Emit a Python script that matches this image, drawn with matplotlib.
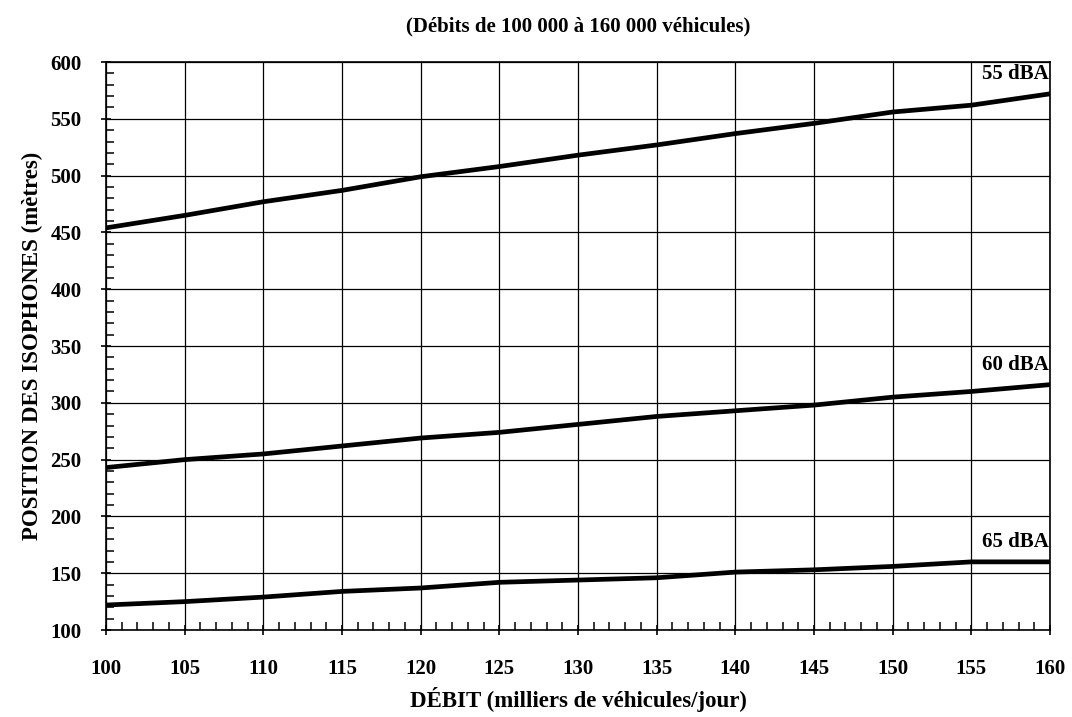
import numpy as np
import matplotlib
matplotlib.use("Agg")
import matplotlib.pyplot as plt
from matplotlib.ticker import MultipleLocator

plt.rcParams['font.family'] = ['Liberation Serif', 'DejaVu Serif']
plt.rcParams['font.weight'] = 'bold'

# débit (milliers de véhicules/jour)
debit = [100, 105, 110, 115, 120, 125, 130, 135, 140, 145, 150, 155, 160]

# position des isophones (mètres)
iso_55 = [454, 465, 477, 487, 499, 508, 518, 527, 537, 546, 556, 562, 572]
iso_60 = [243, 250, 255, 262, 269, 274, 281, 288, 293, 298, 305, 310, 316]
iso_65 = [122, 125, 129, 134, 137, 142, 144, 146, 151, 153, 156, 160, 160]

series = [("55 dBA", iso_55), ("60 dBA", iso_60), ("65 dBA", iso_65)]

fig = plt.figure(figsize=(10.72, 7.17), dpi=100)
ax = fig.add_axes([0.0989, 0.1213, 0.8806, 0.7922])

for label, vals in series:
    ax.plot(debit, vals, color='black', lw=3.4, solid_capstyle='round', zorder=3)
    ax.annotate(label, xy=(debit[-1], vals[-1]), xytext=(-1, 7),
                textcoords='offset points', ha='right', va='bottom',
                fontsize=15, fontweight='bold')

ax.set_xlim(100, 160)
ax.set_ylim(100, 600)
ax.xaxis.set_major_locator(MultipleLocator(5))
ax.xaxis.set_minor_locator(MultipleLocator(1))
ax.yaxis.set_major_locator(MultipleLocator(50))
ax.yaxis.set_minor_locator(MultipleLocator(10))

ax.grid(True, which='major', color='black', lw=0.9)
ax.tick_params(which='major', direction='inout', length=7, width=1.2,
               labelsize=15, colors='black')
ax.tick_params(axis='x', which='major', pad=17)
ax.tick_params(axis='y', which='major', pad=14)
ax.tick_params(which='minor', direction='in', length=6, width=1.1)
for lab in ax.get_xticklabels() + ax.get_yticklabels():
    lab.set_fontweight('bold')
for sp in ax.spines.values():
    sp.set_linewidth(1.2)

ax.set_xlabel("DÉBIT (milliers de véhicules/jour)", fontsize=16.5,
              fontweight='bold', labelpad=6)
ax.set_ylabel("POSITION DES ISOPHONES (mètres)", fontsize=16.5,
              fontweight='bold', labelpad=5)
ax.set_title("(Débits de 100 000 à 160 000 véhicules)", fontsize=15,
             fontweight='bold', pad=22)

fig.savefig("out.png", dpi=100)
